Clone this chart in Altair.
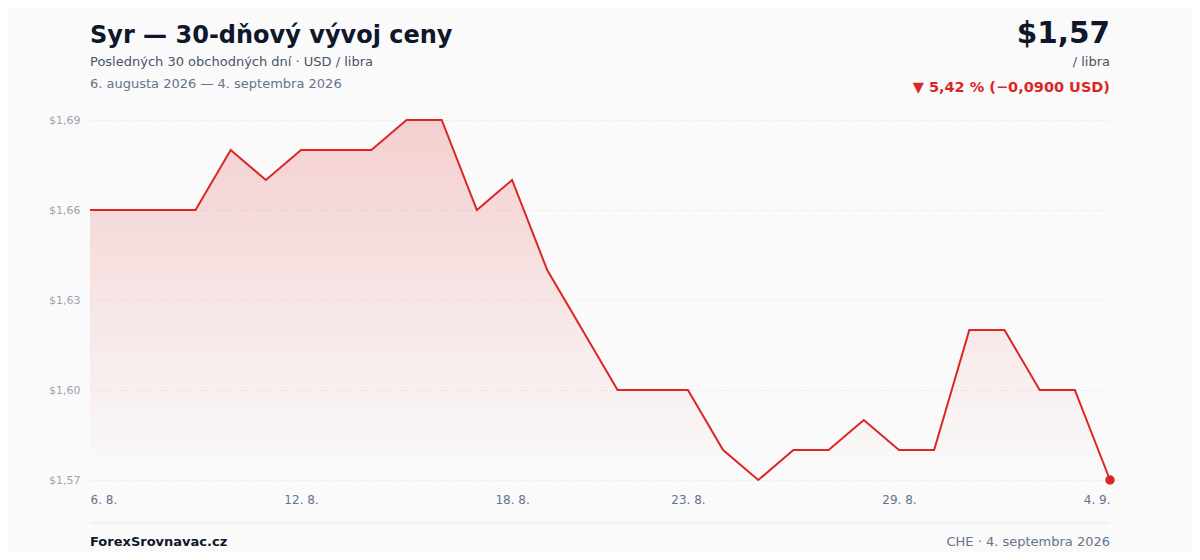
import altair as alt
import pandas as pd

# ---- data ----
dates = [d.strftime("%Y-%m-%d") for d in pd.date_range("2026-08-06", periods=30, freq="D")]
prices = [1.66, 1.66, 1.66, 1.66, 1.68, 1.67, 1.68, 1.68, 1.68, 1.69,
          1.69, 1.66, 1.67, 1.64, 1.62, 1.60, 1.60, 1.60, 1.58, 1.57,
          1.58, 1.58, 1.59, 1.58, 1.58, 1.62, 1.62, 1.60, 1.60, 1.57]
y_ticks = [1.57, 1.60, 1.63, 1.66, 1.69]
x_tick_days = [(2026, 8, 6), (2026, 8, 12), (2026, 8, 18), (2026, 8, 23), (2026, 8, 29), (2026, 9, 4)]

title_text = "Syr — 30-dňový vývoj ceny"
subtitle_text = "Posledných 30 obchodných dní · USD / libra"
range_text = "6. augusta 2026 — 4. septembra 2026"
price_text = "$1,57"
unit_text = "/ libra"
change_text = "▼ 5,42 % (−0,0900 USD)"
brand_text = "ForexSrovnavac.cz"
source_text = "CHE · 4. septembra 2026"

df = pd.DataFrame({"date": dates, "price": prices})
last = df.tail(1)

FONT = "DejaVu Sans"
RED = "#dc2626"
W, H = 1020, 360

x_enc = alt.X("date:T", scale=alt.Scale(type="utc"),
              axis=alt.Axis(values=[alt.DateTime(year=y, month=m, date=d, utc=True) for y, m, d in x_tick_days],
                            labelExpr="utcFormat(datum.value, '%-d. %-m.')",
                            labelFlush=True, grid=False, domain=False, ticks=False,
                            labelPadding=14, labelFontSize=12, labelColor="#64748b",
                            labelFont=FONT, title=None))
y_scale = alt.Scale(domain=[1.57, 1.69], zero=False, nice=False)
y_enc = alt.Y("price:Q", scale=y_scale,
              axis=alt.Axis(values=y_ticks,
                            labelExpr="'$' + replace(format(datum.value, '.2f'), '.', ',')",
                            grid=True, gridColor="#e5e7eb", gridDash=[2, 3], gridWidth=1,
                            domain=False, ticks=False, labelPadding=10,
                            labelFontSize=11, labelColor="#9ca3af", labelFont=FONT, title=None))

area = alt.Chart(df).mark_area(
    color=alt.Gradient(gradient="linear",
                       stops=[alt.GradientStop(color="rgba(220,38,38,0.2)", offset=0),
                              alt.GradientStop(color="rgba(220,38,38,0.0)", offset=1)],
                       x1=1, x2=1, y1=0, y2=1)
).encode(x=x_enc, y=y_enc, y2=alt.datum(1.57))

line = alt.Chart(df).mark_line(color=RED, strokeWidth=2).encode(x="date:T", y="price:Q")
dot = alt.Chart(last).mark_circle(color=RED, size=90, opacity=1).encode(x="date:T", y="price:Q")


def txt(s, x, y, size, color, weight="normal", align="left"):
    return alt.Chart(pd.DataFrame({"t": [s]})).mark_text(
        align=align, baseline="alphabetic", font=FONT, fontSize=size,
        fontWeight=weight, color=color
    ).encode(x=alt.value(x - 90), y=alt.value(y - 120), text="t:N")


texts = [
    txt(title_text, 90, 43, 24, "#0f172a", "bold"),
    txt(subtitle_text, 90, 66, 13, "#475569"),
    txt(range_text, 90, 88, 13, "#64748b"),
    txt(price_text, 1110, 43, 29.5, "#0f172a", "bold", "right"),
    txt(unit_text, 1110, 66, 13, "#475569", align="right"),
    txt(change_text, 1110, 92, 14.5, RED, "bold", "right"),
    txt(brand_text, 90, 546, 13, "#0f172a", "bold"),
    txt(source_text, 1110, 546, 13, "#64748b", align="right"),
]

footer_rule = alt.Chart(pd.DataFrame({"a": [0]})).mark_rule(color="#e5e7eb", strokeWidth=1).encode(
    x=alt.value(0), x2=alt.value(W), y=alt.value(523 - 120))

chart = alt.layer(area, line, dot, footer_rule, *texts).properties(
    width=W, height=H,
    padding={"left": 82, "top": 112, "right": 82, "bottom": 72},
    autosize=alt.AutoSizeParams(type="none"),
    background="#fafafa",
).configure_view(stroke=None)

chart.save("out.html", embed_options={"renderer": "svg", "actions": False})
